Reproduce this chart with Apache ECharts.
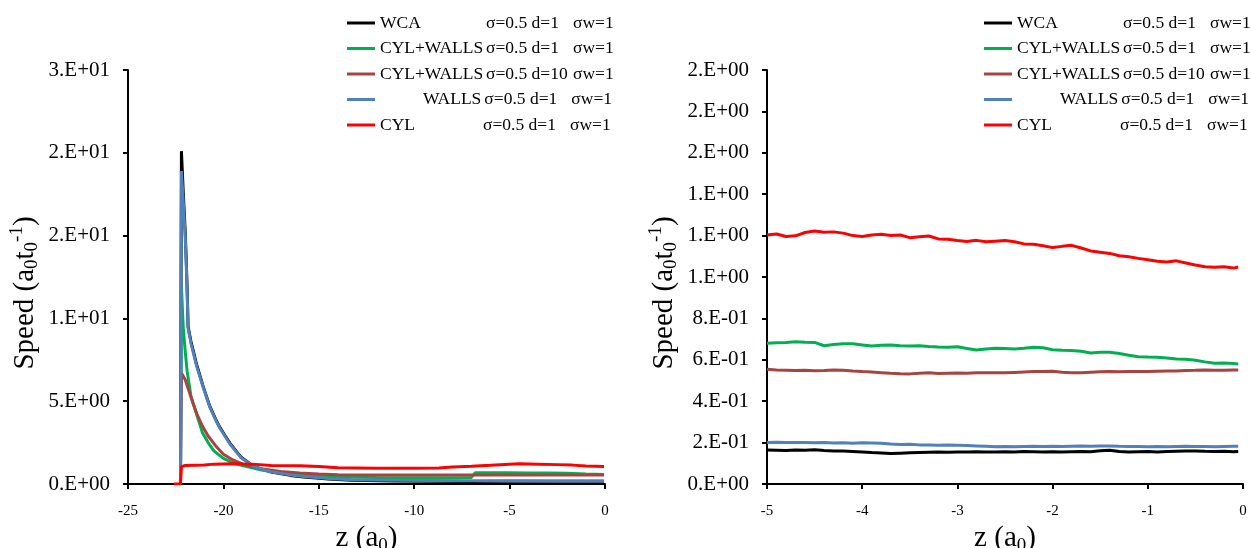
<!DOCTYPE html>
<html><head><meta charset="utf-8">
<script src="https://cdn.jsdelivr.net/npm/echarts@6/dist/echarts.min.js"></script>
<style>html,body{margin:0;padding:0;background:#fff}#c{width:1251px;height:548px}</style>
</head><body><div id="c"></div>
<script>
// ---------- data ----------
const seriesNames = ['WCA', 'CYL+WALLS d=1', 'CYL+WALLS d=10', 'WALLS', 'CYL'];
const seriesColors = ['#000000', '#00B050', '#A8443F', '#4F81BD', '#FF0000'];

// left panel: [z, speed] pairs
const leftWCA = [[-22.25,0],[-22.2,20.1],[-22.1,17.5],[-22.0,15.2],[-21.95,13.6],[-21.9,11.8],[-21.85,9.5],[-21.7,8.6],[-21.55,7.9],[-21.4,7.2],[-21.05,5.85],[-20.7,4.65],[-20.4,3.9],[-20.2,3.45],[-19.9,2.9],[-19.65,2.45],[-19.1,1.65],[-18.4,1.05],[-17.5,0.72],[-16.5,0.52],[-15.8,0.42],[-14.5,0.3],[-13.3,0.22],[-11,0.18],[-9,0.16],[-7,0.15],[-5,0.16],[-2.5,0.16],[-0.05,0.16]];
const leftCylWalls1 = [[-22.25,0],[-22.2,12.0],[-22.15,10.6],[-22.1,9.4],[-22.0,8.0],[-21.9,6.8],[-21.7,5.3],[-21.4,4.2],[-21.1,3.1],[-20.8,2.5],[-20.5,2.0],[-20.0,1.55],[-19.5,1.28],[-19.0,1.12],[-18.5,0.98],[-18.0,0.85],[-17.0,0.66],[-16.0,0.55],[-15.0,0.48],[-14.0,0.43],[-12.0,0.4],[-10.0,0.38],[-8.0,0.38],[-7.0,0.4],[-6.8,0.68],[-5.0,0.68],[-4.0,0.67],[-3.0,0.66],[-2.0,0.65],[-1.0,0.61],[-0.05,0.58]];
const leftCylWalls10 = [[-22.25,0],[-22.2,6.7],[-22.0,6.3],[-21.8,5.6],[-21.6,4.9],[-21.4,4.25],[-21.1,3.5],[-20.8,2.9],[-20.4,2.3],[-20.0,1.8],[-19.5,1.45],[-19.0,1.2],[-18.5,1.05],[-18.0,0.92],[-17.0,0.76],[-16.0,0.66],[-15.0,0.6],[-14.0,0.56],[-12.0,0.55],[-10.0,0.54],[-8.0,0.54],[-6.0,0.55],[-4.0,0.54],[-2.0,0.55],[-0.05,0.55]];
const leftWalls = [[-22.25,0],[-22.2,18.9],[-22.1,17.0],[-22.0,14.9],[-21.95,13.4],[-21.9,11.6],[-21.85,9.4],[-21.7,8.5],[-21.55,7.8],[-21.4,7.1],[-21.05,5.8],[-20.7,4.6],[-20.4,3.85],[-20.2,3.4],[-19.9,2.85],[-19.65,2.4],[-19.1,1.62],[-18.4,1.05],[-17.5,0.74],[-16.5,0.55],[-15.8,0.45],[-14.5,0.33],[-13.3,0.26],[-11,0.22],[-9,0.21],[-7,0.2],[-5,0.2],[-2.5,0.18],[-0.05,0.18]];
const leftCyl = [[-22.6,0],[-22.25,0],[-22.2,1.05],[-22.0,1.12],[-21.0,1.15],[-20.5,1.2],[-19.5,1.22],[-18.5,1.2],[-17.5,1.12],[-16.0,1.1],[-15.0,1.05],[-14.0,0.98],[-12.0,0.95],[-10.0,0.95],[-8.7,0.97],[-8.0,1.02],[-7.0,1.07],[-6.0,1.13],[-5.0,1.2],[-4.5,1.22],[-3.5,1.2],[-2.5,1.17],[-1.7,1.14],[-1.0,1.08],[-0.05,1.05]];

// right panel: common z grid and speeds
const zRight = [-5.0,-4.9,-4.8,-4.7,-4.6,-4.5,-4.4,-4.3,-4.2,-4.1,-4.0,-3.9,-3.8,-3.7,-3.6,-3.5,-3.4,-3.3,-3.2,-3.1,-3.0,-2.9,-2.8,-2.7,-2.6,-2.5,-2.4,-2.3,-2.2,-2.1,-2.0,-1.9,-1.8,-1.7,-1.6,-1.5,-1.4,-1.3,-1.2,-1.1,-1.0,-0.9,-0.8,-0.7,-0.6,-0.5,-0.4,-0.3,-0.2,-0.1,-0.05];
const rightWCA = [0.164,0.163,0.162,0.164,0.163,0.165,0.162,0.160,0.159,0.157,0.155,0.152,0.150,0.147,0.149,0.151,0.152,0.153,0.154,0.153,0.154,0.155,0.156,0.155,0.154,0.156,0.155,0.157,0.156,0.155,0.156,0.155,0.156,0.157,0.156,0.161,0.163,0.157,0.155,0.156,0.157,0.155,0.157,0.158,0.159,0.160,0.158,0.157,0.158,0.156,0.157];
const rightCylWalls1 = [0.680,0.682,0.684,0.687,0.685,0.684,0.668,0.674,0.678,0.677,0.672,0.667,0.670,0.671,0.668,0.667,0.668,0.664,0.662,0.661,0.663,0.655,0.647,0.652,0.656,0.654,0.652,0.656,0.661,0.658,0.649,0.646,0.645,0.641,0.633,0.637,0.636,0.630,0.622,0.615,0.613,0.612,0.609,0.604,0.603,0.598,0.590,0.583,0.584,0.582,0.580];
const rightCylWalls10 = [0.554,0.551,0.550,0.548,0.549,0.547,0.548,0.551,0.550,0.546,0.543,0.541,0.538,0.535,0.533,0.532,0.535,0.537,0.534,0.535,0.536,0.535,0.537,0.538,0.538,0.537,0.539,0.541,0.543,0.544,0.545,0.540,0.538,0.537,0.540,0.542,0.544,0.542,0.543,0.544,0.543,0.545,0.546,0.546,0.548,0.549,0.551,0.550,0.549,0.551,0.551];
const rightWalls = [0.201,0.202,0.200,0.201,0.200,0.199,0.200,0.198,0.199,0.197,0.199,0.198,0.197,0.193,0.191,0.192,0.189,0.188,0.187,0.188,0.187,0.186,0.184,0.182,0.180,0.181,0.180,0.181,0.182,0.181,0.182,0.181,0.182,0.183,0.182,0.183,0.184,0.182,0.181,0.181,0.180,0.181,0.180,0.181,0.182,0.181,0.181,0.180,0.181,0.182,0.182];
const rightCyl = [1.203,1.208,1.196,1.199,1.215,1.222,1.216,1.218,1.212,1.200,1.196,1.203,1.206,1.200,1.203,1.190,1.194,1.198,1.184,1.182,1.176,1.172,1.177,1.170,1.173,1.176,1.170,1.160,1.158,1.151,1.142,1.148,1.153,1.140,1.126,1.120,1.114,1.103,1.098,1.090,1.083,1.076,1.072,1.078,1.068,1.058,1.050,1.047,1.049,1.043,1.048];

const leftXTicks = {min: -25, max: 0, interval: 5};
const leftYTicks = {min: 0, max: 25, interval: 5};
const rightXTicks = {min: -5, max: 0, interval: 1};
const rightYTicks = {min: 0, max: 2, interval: 0.2};

// ---------- chart ----------
const FONT = '"Liberation Serif", "Times New Roman", serif';
function sci(v) {
  if (Math.abs(v) < 1e-12) return '0.E+00';
  let e = Math.floor(Math.log10(Math.abs(v)) + 1e-9);
  let m = Math.round(v / Math.pow(10, e));
  if (Math.abs(m) >= 10) { m = m / 10; e += 1; }
  return m + '.E' + (e < 0 ? '-' : '+') + String(Math.abs(e)).padStart(2, '0');
}
const legendLabels = {
  'WCA': '{n|WCA}{p|σ=0.5 d=1}{w|σw=1}',
  'CYL+WALLS d=1': '{n|CYL+WALLS}{p|σ=0.5 d=1}{w|σw=1}',
  'CYL+WALLS d=10': '{n|CYL+WALLS}{p|σ=0.5 d=10}{w|σw=1}',
  'WALLS': '{r|WALLS}{q|σ=0.5 d=1}{w|σw=1}',
  'CYL': '{c|CYL}{p|σ=0.5 d=1}{w|σw=1}'
};
const LFS = 17.5;
function legendAt(left) {
  return {
    left: left, top: 13, padding: 0, orient: 'vertical', icon: 'rect',
    itemWidth: 28, itemHeight: 3, itemGap: 5.5, selectedMode: false,
    data: seriesNames,
    formatter: n => legendLabels[n],
    textStyle: {
      fontFamily: FONT, fontSize: LFS, color: '#000', lineHeight: 20,
      rich: {
        n: {fontFamily: FONT, fontSize: LFS, width: 106, color: '#000'},
        c: {fontFamily: FONT, fontSize: LFS, width: 103, color: '#000'},
        r: {fontFamily: FONT, fontSize: LFS, color: '#000', padding: [0, 0, 0, 43]},
        p: {fontFamily: FONT, fontSize: LFS, width: 87, color: '#000'},
        q: {fontFamily: FONT, fontSize: LFS, width: 87, color: '#000', padding: [0, 0, 0, 3]},
        w: {fontFamily: FONT, fontSize: LFS, color: '#000'}
      }
    }
  };
}
const titleRich = {
  m: {fontFamily: FONT, fontSize: 29, color: '#000', lineHeight: 34},
  s: {fontFamily: FONT, fontSize: 19, color: '#000', lineHeight: 14, verticalAlign: 'bottom'},
  p: {fontFamily: FONT, fontSize: 19, color: '#000', lineHeight: 14, verticalAlign: 'top'}
};
function xAxis(idx, t) {
  return {
    gridIndex: idx, type: 'value', min: t.min, max: t.max, interval: t.interval,
    axisLine: {show: true, onZero: false, lineStyle: {color: '#000', width: 2}},
    axisTick: {show: true, length: 5, lineStyle: {color: '#000', width: 2}},
    splitLine: {show: false},
    axisLabel: {fontFamily: FONT, fontSize: 15, color: '#000', margin: 20},
    name: '{m|z (a}{s|0}{m|)}', nameLocation: 'middle', nameGap: 32,
    nameTextStyle: {rich: titleRich}
  };
}
function yAxis(idx, t) {
  return {
    gridIndex: idx, type: 'value', min: t.min, max: t.max, interval: t.interval,
    axisLine: {show: true, onZero: false, lineStyle: {color: '#000', width: 2}},
    axisTick: {show: true, length: 5, lineStyle: {color: '#000', width: 2}},
    splitLine: {show: false},
    axisLabel: {fontFamily: FONT, fontSize: 21, color: '#000', margin: 18, formatter: sci},
    name: '{m|Speed (a}{s|0}{m|t}{s|0}{p|-1}{m|)}', nameLocation: 'middle', nameGap: 86, nameRotate: 90,
    nameTextStyle: {rich: titleRich, padding: [0, 32, 0, 0]}
  };
}
const leftData = [leftWCA, leftCylWalls1, leftCylWalls10, leftWalls, leftCyl];
const rightData = [rightWCA, rightCylWalls1, rightCylWalls10, rightWalls, rightCyl];
const series = [];
seriesNames.forEach((n, i) => {
  series.push({type: 'line', name: n, xAxisIndex: 0, yAxisIndex: 0, data: leftData[i],
    showSymbol: false, symbol: 'none', color: seriesColors[i], lineStyle: {width: 3, color: seriesColors[i]}});
});
seriesNames.forEach((n, i) => {
  series.push({type: 'line', name: n, xAxisIndex: 1, yAxisIndex: 1, data: zRight.map((z, j) => [z, rightData[i][j]]),
    showSymbol: false, symbol: 'none', color: seriesColors[i], lineStyle: {width: 3, color: seriesColors[i]}});
});
const chart = echarts.init(document.getElementById('c'), null, {renderer: 'canvas'});
chart.setOption({
  animation: false,
  backgroundColor: '#fff',
  legend: [legendAt(347), legendAt(984)],
  grid: [
    {left: 128, top: 70, width: 477, height: 414, containLabel: false, outerBoundsMode: 'none'},
    {left: 767, top: 70, width: 476, height: 414, containLabel: false, outerBoundsMode: 'none'}
  ],
  xAxis: [xAxis(0, leftXTicks), xAxis(1, rightXTicks)],
  yAxis: [yAxis(0, leftYTicks), yAxis(1, rightYTicks)],
  series: series
});
</script></body></html>
